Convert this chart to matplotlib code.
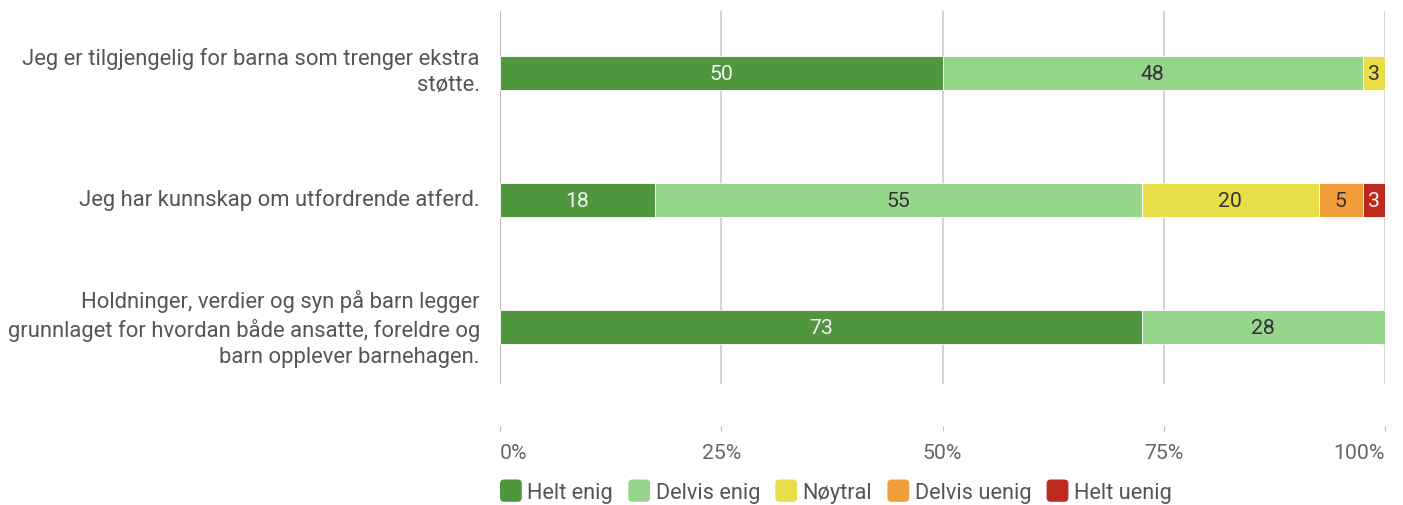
import matplotlib
matplotlib.use("Agg")
import matplotlib.pyplot as plt
import matplotlib.transforms as mtransforms
from matplotlib.patches import Patch, FancyBboxPatch
from matplotlib.legend_handler import HandlerPatch
from matplotlib.ticker import FuncFormatter
import math

plt.rcParams['font.family'] = ['Roboto', 'DejaVu Sans']

categories = [
    "Jeg er tilgjengelig for barna som trenger ekstra\nstøtte.",
    "Jeg har kunnskap om utfordrende atferd.",
    "Holdninger, verdier og syn på barn legger\ngrunnlaget for hvordan både ansatte, foreldre og\nbarn opplever barnehagen.",
]
series = ["Helt enig", "Delvis enig", "Nøytral", "Delvis uenig", "Helt uenig"]
helt_enig = [50.0, 17.5, 72.5]
delvis_enig = [47.5, 55.0, 27.5]
noytral = [2.5, 20.0, 0.0]
delvis_uenig = [0.0, 5.0, 0.0]
helt_uenig = [0.0, 2.5, 0.0]
values = [helt_enig, delvis_enig, noytral, delvis_uenig, helt_uenig]
colors = ["#4f963f", "#96d68a", "#e8df48", "#f29e38", "#be2a1f"]
label_colors = ["#f2f2f2", "#333333", "#333333", "#333333", "#f2f2f2"]
xticks = [0, 25, 50, 75, 100]

FS = 15.3
FS_Y = 15.8
FS_LEG = 15.7

fig = plt.figure(figsize=(14.03, 5.06), dpi=100)
W, H = 1403, 506
ax = fig.add_axes([500 / W, 1 - 385 / H, 885 / W, 373 / H])

ys = list(range(len(categories)))
left = [0.0] * len(categories)
for vals, col, lc in zip(values, colors, label_colors):
    ax.barh(ys, vals, left=left, height=0.265, color=col,
            edgecolor="white", linewidth=0.6, zorder=3)
    for y, v, l in zip(ys, vals, left):
        if v > 0:
            ax.text(l + v / 2, y, str(int(math.floor(v + 0.5))), ha="center",
                    va="center", color=lc, fontsize=FS, zorder=4)
    left = [a + b for a, b in zip(left, vals)]

ax.set_xlim(0, 100)
ax.set_ylim(2 + 57 / 127, -62 / 127)
ax.set_yticks(ys)
ax.set_yticklabels(categories, fontsize=FS_Y, color="#555555",
                   linespacing=1.3)
ax.tick_params(axis="y", length=0, pad=14.5)
for i, lab in enumerate(ax.get_yticklabels()):
    dy = 7 if i == 0 else 4
    lab.set_transform(lab.get_transform() +
                      mtransforms.ScaledTranslation(0, dy / 100, fig.dpi_scale_trans))

ax.set_xticks(xticks)
ax.xaxis.set_major_formatter(FuncFormatter(lambda v, p: f"{int(v)}%"))
ax.tick_params(axis="x", length=3.8, color="#bbbbbb", labelsize=FS,
               labelcolor="#666666", pad=8.5)
for s in ["top", "right", "left"]:
    ax.spines[s].set_visible(False)
ax.spines["bottom"].set_position(("outward", 30.2))
ax.spines["bottom"].set_visible(False)
tl = ax.get_xticklabels()
tl[0].set_ha("left")
tl[-1].set_ha("right")

for x in xticks:
    ax.axvline(x, color="#cccccc" if x else "#aaaaaa", linewidth=1.2, zorder=1)


class RoundHandler(HandlerPatch):
    def create_artists(self, legend, orig_handle, xdescent, ydescent,
                       width, height, fontsize, trans):
        p = FancyBboxPatch((-xdescent, -ydescent - 1), width, height + 2,
                           boxstyle="round,pad=0,rounding_size=3",
                           facecolor=orig_handle.get_facecolor(),
                           edgecolor="none", transform=trans)
        return [p]


handles = [Patch(facecolor=c, label=s) for s, c in zip(series, colors)]
fig.legend(handles=handles, loc="center left", bbox_to_anchor=(500 / W, 1 - 493 / H),
           ncol=5, frameon=False, fontsize=FS_LEG, handlelength=1.0, handleheight=1.0,
           handletextpad=0.25, columnspacing=0.7, borderpad=0, borderaxespad=0,
           labelcolor="#555555", handler_map={Patch: RoundHandler()})

fig.savefig("out.png", dpi=100)
